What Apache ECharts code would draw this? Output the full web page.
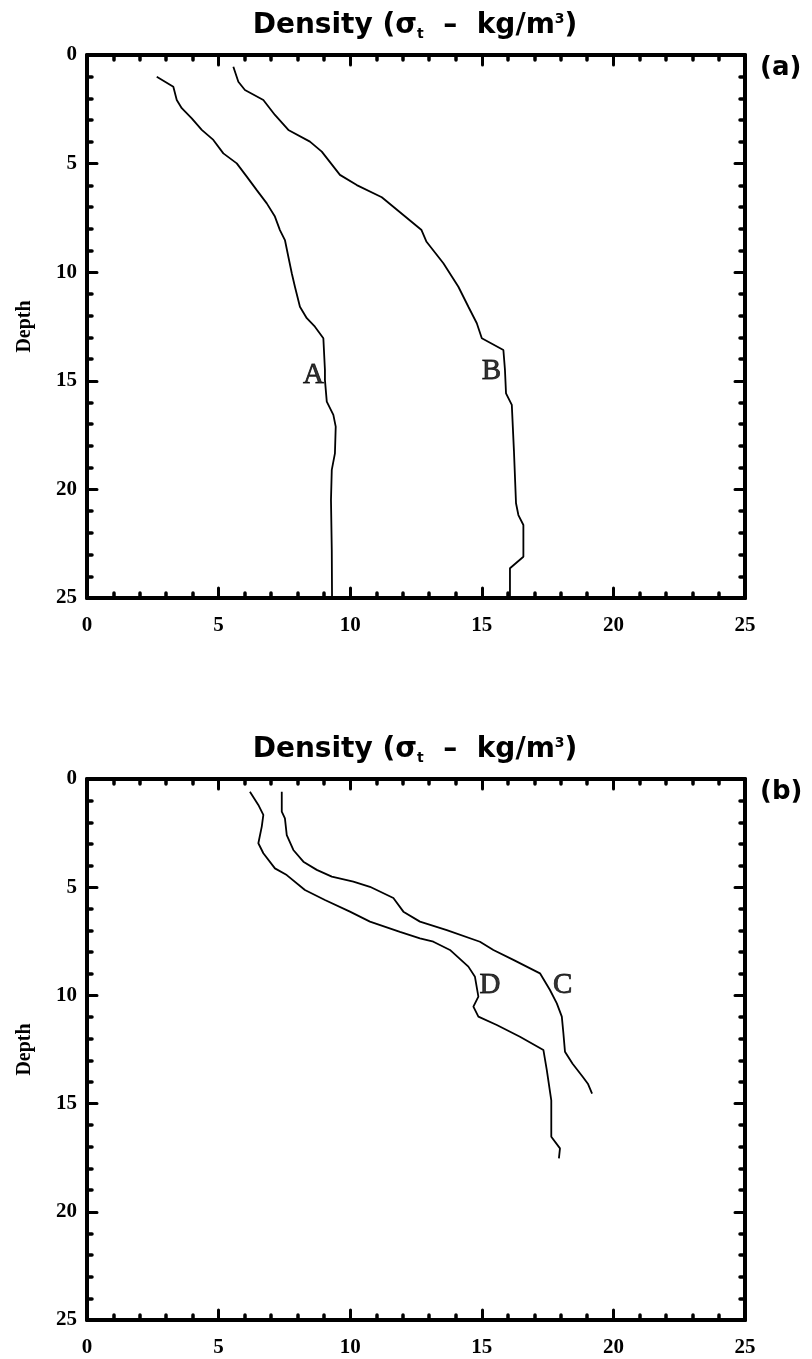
<!DOCTYPE html>
<html>
<head>
<meta charset="utf-8">
<script src="https://cdn.jsdelivr.net/npm/echarts@6/dist/echarts.min.js"></script>
<style>
  html, body { margin: 0; padding: 0; background: #fff; }
  #chart { width: 812px; height: 1359px; }
</style>
</head>
<body>
<div id="chart"></div>
<script>
// ---- Data (density sigma_t in x, depth in y) ----
const curveA_x = [2.65,3.28,3.41,3.6,3.98,4.36,4.8,5.18,5.69,6.07,6.45,6.83,7.14,7.33,7.52,7.65,7.78,7.9,8.09,8.35,8.66,8.98,9.04,9.04,9.11,9.36,9.45,9.42,9.3,9.27,9.3,9.31];
const curveA_d = [1.0,1.46,2.07,2.45,2.92,3.45,3.91,4.53,4.99,5.6,6.22,6.83,7.44,8.06,8.52,9.29,10.05,10.67,11.59,12.12,12.51,13.04,14.5,14.96,15.96,16.57,17.11,18.34,19.1,20.49,22.79,25.0];

const curveB_x = [5.56,5.75,6.0,6.7,7.14,7.65,8.47,8.92,9.61,10.25,11.2,12.71,12.9,13.54,14.11,14.49,14.81,15.0,15.82,15.88,15.92,16.14,16.22,16.3,16.39,16.58,16.58,16.07,16.07];
const curveB_d = [0.54,1.23,1.61,2.07,2.76,3.45,3.99,4.45,5.52,5.99,6.55,8.06,8.6,9.59,10.67,11.59,12.35,13.04,13.58,14.5,15.58,16.11,18.19,20.64,21.18,21.64,23.1,23.63,25.0];

const curveC_x = [7.4,7.4,7.52,7.59,7.84,8.22,8.73,9.3,10.12,10.75,11.64,12.02,12.65,13.67,14.93,15.44,16.2,17.21,17.59,17.85,18.04,18.1,18.16,18.45,18.84,19.03,19.19];
const curveC_d = [0.59,1.51,1.82,2.59,3.28,3.82,4.2,4.51,4.74,4.98,5.5,6.13,6.59,6.98,7.52,7.9,8.36,8.98,9.75,10.37,10.98,11.75,12.6,13.16,13.77,14.08,14.54];

const curveD_x = [6.19,6.51,6.7,6.64,6.51,6.7,7.14,7.59,8.28,9.04,9.99,10.75,11.89,12.65,13.16,13.79,14.49,14.74,14.87,14.68,14.87,15.57,16.45,17.34,17.47,17.64,17.64,17.97,17.93];
const curveD_d = [0.59,1.2,1.66,2.2,2.97,3.43,4.13,4.44,5.13,5.59,6.13,6.59,7.06,7.36,7.52,7.9,8.67,9.14,10.06,10.52,10.98,11.37,11.91,12.52,13.45,14.85,16.53,17.07,17.53];

const labelNames = ['A','B','C','D'];
const labelX = [8.6, 15.37, 18.07, 15.31];
const labelD = [14.73, 14.55, 9.55, 9.55];

const axisMin = 0, axisMax = 25, axisStep = 5;
const titleText = '{n|Density (σ}{s|t}{n|  –  kg/m}{p|3}{n|)}';
const panelTags = ['(a)', '(b)'];
const depthName = 'Depth';

// ---- Build ----
const zip = (xs, ds) => xs.map((v, i) => [v, ds[i]]);

const grids = [
  { left: 87, top: 55, width: 658, height: 543 },
  { left: 87, top: 779, width: 658, height: 541 }
];

const axisLineStyle = { color: '#000', width: 4, cap: 'round' };
const labelFont = { color: '#000', fontFamily: 'Liberation Serif', fontWeight: 'bold', fontSize: 21 };

function makeX(gi, pos, showLabel) {
  return {
    type: 'value', gridIndex: gi, position: pos,
    min: axisMin, max: axisMax, interval: axisStep,
    axisLine: { show: true, onZero: false, lineStyle: axisLineStyle },
    axisTick: { show: true, inside: true, length: 10, lineStyle: { color: '#000', width: 3, cap: 'round' } },
    minorTick: { show: true, splitNumber: 5, length: 5, lineStyle: { color: '#000', width: 3.5, cap: 'round' } },
    splitLine: { show: false },
    axisLabel: Object.assign({ show: showLabel, margin: 17 }, labelFont)
  };
}
function makeY(gi, pos, showLabel) {
  const o = {
    type: 'value', gridIndex: gi, position: pos, inverse: true,
    min: axisMin, max: axisMax, interval: axisStep,
    axisLine: { show: true, onZero: false, lineStyle: axisLineStyle },
    axisTick: { show: true, inside: true, length: 10, lineStyle: { color: '#000', width: 3, cap: 'round' } },
    minorTick: { show: true, splitNumber: 5, length: 5, lineStyle: { color: '#000', width: 3.5, cap: 'round' } },
    splitLine: { show: false },
    axisLabel: Object.assign({ show: showLabel, margin: 10 }, labelFont)
  };
  if (showLabel) {
    o.name = depthName;
    o.nameLocation = 'middle';
    o.nameRotate = 90;
    o.nameGap = 52;
    o.nameTextStyle = { color: '#000', fontFamily: 'Liberation Serif', fontWeight: 'bold', fontSize: 20 };
  }
  return o;
}

const xAxes = [], yAxes = [];
[0, 1].forEach(gi => {
  xAxes.push(makeX(gi, 'bottom', true));
  xAxes.push(makeX(gi, 'top', false));
  yAxes.push(makeY(gi, 'left', true));
  yAxes.push(makeY(gi, 'right', false));
});

const lineStyle = { color: '#000', width: 1.8 };
function lineSeries(data, gi) {
  return {
    type: 'line', data: data, xAxisIndex: gi * 2, yAxisIndex: gi * 2,
    showSymbol: false, symbol: 'none', smooth: false, lineStyle: lineStyle,
    silent: true, animation: false
  };
}
function labelSeries(idxs, gi) {
  return {
    type: 'scatter', xAxisIndex: gi * 2, yAxisIndex: gi * 2,
    symbolSize: 1, itemStyle: { color: 'rgba(0,0,0,0)' },
    data: idxs.map(i => ({ name: labelNames[i], value: [labelX[i], labelD[i]] })),
    label: {
      show: true, position: 'inside', formatter: '{b}',
      color: '#000', fontFamily: 'Liberation Serif', fontSize: 29,
      textBorderColor: '#000', textBorderWidth: 0.8
    },
    silent: true, animation: false
  };
}

const richTitle = {
  n: { fontFamily: 'DejaVu Sans', fontWeight: 'bold', fontSize: 28, color: '#000' },
  s: { fontFamily: 'DejaVu Sans', fontWeight: 'bold', fontSize: 14, color: '#000', padding: [16, 0, 0, 0] },
  p: { fontFamily: 'DejaVu Sans', fontWeight: 'bold', fontSize: 14, color: '#000', padding: [0, 0, 14, 0] }
};

const option = {
  backgroundColor: '#fff',
  animation: false,
  title: [
    { text: titleText, left: 410, top: 6, textAlign: 'center', textStyle: { rich: richTitle } },
    { text: titleText, left: 410, top: 730, textAlign: 'center', textStyle: { rich: richTitle } },
    { text: panelTags[0], left: 755, top: 50, textStyle: { fontFamily: 'DejaVu Sans', fontWeight: 'bold', fontSize: 26, color: '#000' } },
    { text: panelTags[1], left: 755, top: 774, textStyle: { fontFamily: 'DejaVu Sans', fontWeight: 'bold', fontSize: 26, color: '#000' } }
  ],
  grid: grids,
  xAxis: xAxes,
  yAxis: yAxes,
  series: [
    lineSeries(zip(curveA_x, curveA_d), 0),
    lineSeries(zip(curveB_x, curveB_d), 0),
    labelSeries([0, 1], 0),
    lineSeries(zip(curveC_x, curveC_d), 1),
    lineSeries(zip(curveD_x, curveD_d), 1),
    labelSeries([2, 3], 1)
  ]
};

const chart = echarts.init(document.getElementById('chart'), null, { renderer: 'canvas' });
chart.setOption(option);
</script>
</body>
</html>
